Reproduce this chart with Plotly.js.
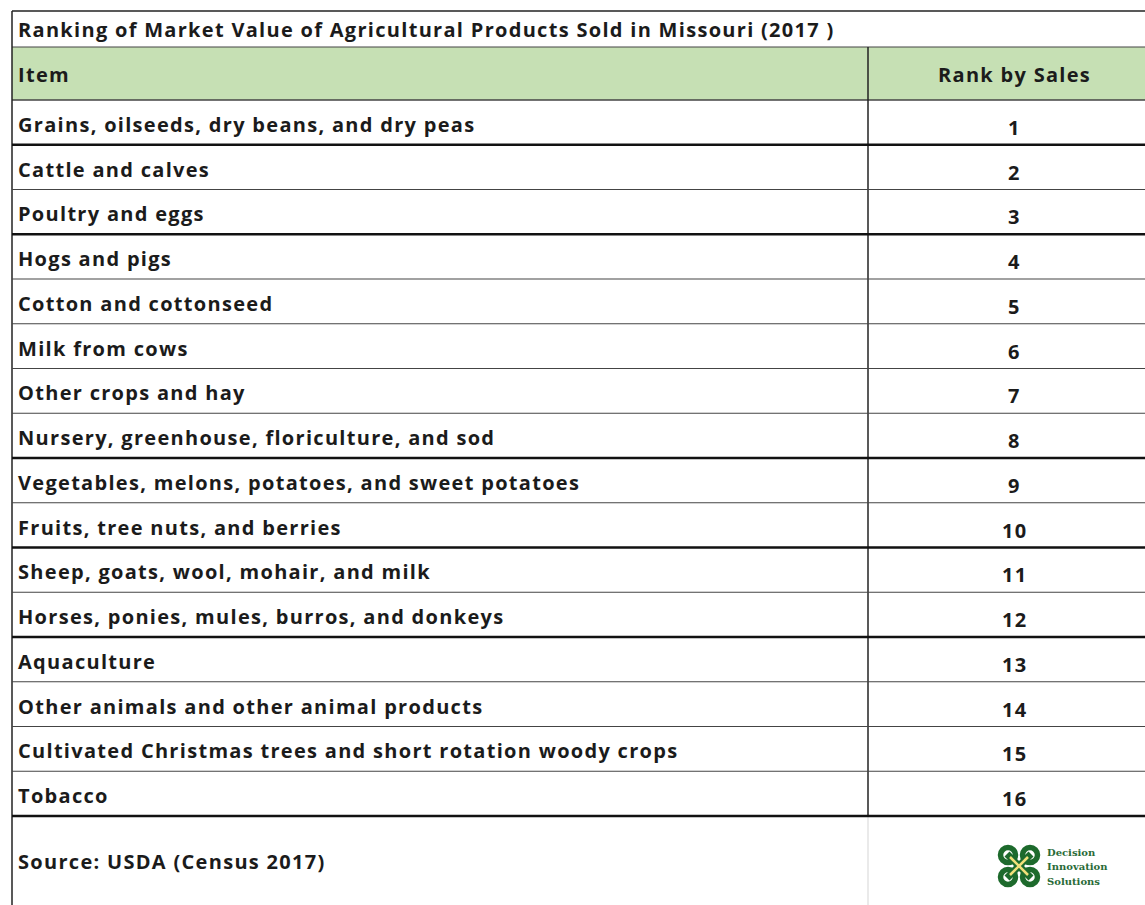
<!DOCTYPE html>
<html>
<head>
<meta charset="utf-8">
<script src="https://cdn.plot.ly/plotly-3.0.1.min.js"></script>
<style>
html,body{margin:0;padding:0;background:#fff;}
#chart{width:1145px;height:905px;}
text.annotation-text[style*="Open Sans"]{letter-spacing:1.3px;}
</style>
</head>
<body>
<div id="chart"></div>
<script>
const tableTitle = "Ranking of Market Value of Agricultural Products Sold in Missouri (2017 )";
const headers = ["Item", "Rank by Sales"];
const items = [
  "Grains, oilseeds, dry beans, and dry peas",
  "Cattle and calves",
  "Poultry and eggs",
  "Hogs and pigs",
  "Cotton and cottonseed",
  "Milk from cows",
  "Other crops and hay",
  "Nursery, greenhouse, floriculture, and sod",
  "Vegetables, melons, potatoes, and sweet potatoes",
  "Fruits, tree nuts, and berries",
  "Sheep, goats, wool, mohair, and milk",
  "Horses, ponies, mules, burros, and donkeys",
  "Aquaculture",
  "Other animals and other animal products",
  "Cultivated Christmas trees and short rotation woody crops",
  "Tobacco"
];
const ranks = [1,2,3,4,5,6,7,8,9,10,11,12,13,14,15,16];
const sourceText = "Source: USDA (Census 2017)";
const logoLines = ["Decision", "Innovation", "Solutions"];

// layout geometry (pixel-like data coordinates)
const X0 = 12, XDIV = 868, X1 = 1160, RANKX = 1014;
const TTOP = 11, HTOP = 47, HBOT = 100, ROWH = 44.75;
const thickAfter = new Set([0, 2, 7, 9, 11]);
const FONT = "'Open Sans', sans-serif";
const TXT = "#1b1b1b";

const shapes = [];
const annotations = [];
function line(x0,y0,x1,y1,w,c){shapes.push({type:'line',xref:'x',yref:'y',x0,y0,x1,y1,line:{color:c||'#222',width:w}});}
function txt(x,y,t,opts){annotations.push(Object.assign({x,y,xref:'x',yref:'y',text:t,showarrow:false,xanchor:'left',yanchor:'middle',font:{family:FONT,size:20,color:TXT,weight:700}},opts||{}));}

// header fill
shapes.push({type:'rect',xref:'x',yref:'y',x0:X0,x1:X1,y0:HTOP,y1:HBOT,fillcolor:'#c6e0b4',line:{width:0},layer:'below'});

const lastRowBottom = HBOT + ROWH*items.length;
// outer / structural lines
line(X0,TTOP,X1,TTOP,1.5);
line(X0,HTOP,X1,HTOP,1.2,'#444');
line(X0,HBOT,X1,HBOT,1.5,'#444');
line(X0,TTOP,X0,905,1.5);
line(XDIV,HTOP,XDIV,lastRowBottom,1.5);
line(XDIV,lastRowBottom,XDIV,905,1.2,'#dcdcdc');

const TX = 16;
items.forEach((it,i)=>{
  const top = HBOT + ROWH*i, bot = top + ROWH;
  const thick = thickAfter.has(i) || i === items.length-1;
  line(X0,bot,X1,bot,thick?2.6:1.2,thick?'#111':'#444');
  txt(TX, top + ROWH/2 + 2, it);
  txt(RANKX, top + ROWH/2 + 5, String(ranks[i]), {xanchor:'center'});
});

txt(TX, 29, tableTitle);
txt(TX, 74, headers[0]);
txt(RANKX, 74, headers[1], {xanchor:'center'});
txt(TX, 861, sourceText);

// logo: simplified knot (loops at the corners, crossing bands in the middle)
const cx = 1019, cy = 866;
const G = '#1d6a2c', Y = '#f1e07a';
[[-1,-1],[1,-1],[-1,1],[1,1]].forEach(([sx,sy])=>{
  const ox = cx + sx*11, oy = cy + sy*11;
  shapes.push({type:'circle',xref:'x',yref:'y',x0:ox-7.5,x1:ox+7.5,y0:oy-7.5,y1:oy+7.5,line:{color:G,width:5.5},fillcolor:'rgba(0,0,0,0)'});
});
shapes.push({type:'line',xref:'x',yref:'y',x0:cx-12,y0:cy-12,x1:cx+12,y1:cy+12,line:{color:G,width:7}});
shapes.push({type:'line',xref:'x',yref:'y',x0:cx-12,y0:cy+12,x1:cx+12,y1:cy-12,line:{color:G,width:7}});
shapes.push({type:'line',xref:'x',yref:'y',x0:cx-9,y0:cy-9,x1:cx+9,y1:cy+9,line:{color:Y,width:2.5}});
shapes.push({type:'line',xref:'x',yref:'y',x0:cx-9,y0:cy+9,x1:cx+9,y1:cy-9,line:{color:Y,width:2.5}});
logoLines.forEach((t,i)=>{
  annotations.push({x:1045,y:852+i*14.5,xref:'x',yref:'y',text:t,showarrow:false,xanchor:'left',yanchor:'middle',
    font:{family:"'DejaVu Serif', 'Liberation Serif', serif",size:10,color:'#2a6b38',weight:700}});
});

const layout = {
  width:1145, height:905,
  margin:{l:0,r:0,t:0,b:0},
  paper_bgcolor:'#fff', plot_bgcolor:'#fff',
  xaxis:{range:[0,1145],visible:false,fixedrange:true},
  yaxis:{range:[905,0],visible:false,fixedrange:true},
  shapes, annotations, showlegend:false
};
Plotly.newPlot('chart',[{x:[0],y:[0],type:'scatter',mode:'markers',marker:{opacity:0},hoverinfo:'skip'}],layout,{staticPlot:true});
</script>
</body>
</html>
